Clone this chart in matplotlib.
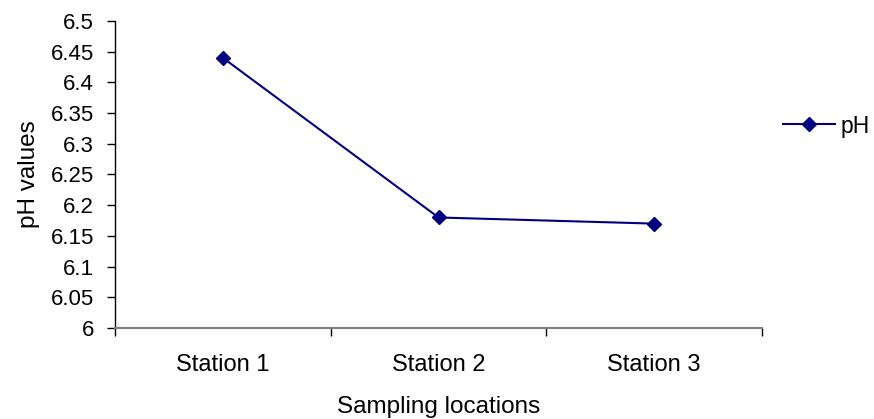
import numpy as np
import matplotlib.pyplot as plt

plt.rcParams['font.family'] = ['Liberation Sans', 'DejaVu Sans']

stations = ['Station 1', 'Station 2', 'Station 3']
ph_values = [6.44, 6.18, 6.17]
y_ticks = [6, 6.05, 6.1, 6.15, 6.2, 6.25, 6.3, 6.35, 6.4, 6.45, 6.5]
y_labels = ['6', '6.05', '6.1', '6.15', '6.2', '6.25', '6.3', '6.35', '6.4', '6.45', '6.5']

fig = plt.figure(figsize=(8.74, 4.19), dpi=100)
ax = fig.add_axes([0.1316, 0.2172, 0.7403, 0.7327])

x = np.arange(len(stations))
ax.plot(x, ph_values, color='#000080', lw=1.5, marker='D', markersize=7.5, label='pH')

ax.set_xlim(-0.5, len(stations) - 0.5)
ax.set_ylim(6, 6.5)
ax.set_yticks(y_ticks)
ax.set_yticklabels(y_labels, fontsize=16)

# category ticks sit between categories, labels centered
ax.set_xticks(np.arange(-0.5, len(stations), 1.0))
ax.set_xticklabels([])
ax.set_xticks(x, minor=True)
ax.set_xticklabels(stations, minor=True, fontsize=17)
ax.tick_params(axis='x', which='minor', length=0, pad=19)
ax.tick_params(axis='x', which='major', length=6, direction='out', width=1, color='black')
ax.tick_params(axis='y', length=6, direction='out', width=1, pad=9)

ax.spines['top'].set_visible(False)
ax.spines['right'].set_visible(False)
ax.spines['bottom'].set_color('#808080')
ax.spines['bottom'].set_linewidth(1.5)
ax.spines['left'].set_linewidth(1)

ax.set_ylabel('pH values', fontsize=17.5, labelpad=8)
ax.set_xlabel('Sampling locations', fontsize=17.5, labelpad=14)

fig.legend(*ax.get_legend_handles_labels(), loc='center left',
           bbox_to_anchor=(783 / 874, 1 - 126 / 419), frameon=False,
           fontsize=16.5, handlelength=2.27, handletextpad=0.22,
           borderpad=0, borderaxespad=0)

fig.savefig('out.png', dpi=100)
